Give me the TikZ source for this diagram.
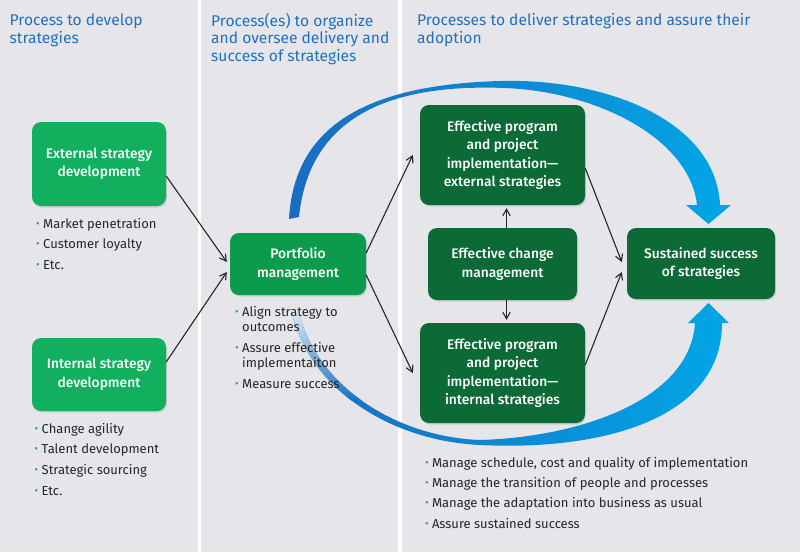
\documentclass[tikz,border=0pt]{standalone}
\usepackage{fontspec}
\setmainfont{Fira Sans}[BoldFont={Fira Sans Medium}]
\usetikzlibrary{arrows.meta,shadows}
\definecolor{bgc}{HTML}{E6E6EA}
\definecolor{lgreen}{HTML}{12AF5F}
\definecolor{mgreen}{HTML}{0C9B4C}
\definecolor{dgreen}{HTML}{0B6A35}
\definecolor{hblue}{HTML}{1F70BE}
\definecolor{dotc}{HTML}{1E9BE0}
\definecolor{txt}{HTML}{262626}
\definecolor{arcA}{HTML}{1B6CC0}
\definecolor{arcM}{HTML}{0A90D8}
\definecolor{arcB}{HTML}{00A6E6}
\definecolor{fadec}{HTML}{EEF1F6}
\newcommand{\bul}{\makebox[7pt][l]{\textcolor{dotc}{\fontsize{11}{11}\selectfont\raisebox{0.3pt}{•}}}}
\def\upperarc{(289,219) .. controls (294,130) and (360,85) .. (500,81)
  .. controls (605,78) and (716,120) .. (720,205) -- (731,205) -- (708.5,224) -- (686,205) -- (697,205)
  .. controls (690,140) and (600,92) .. (505,88)
  .. controls (400,84) and (310,110) .. (299,217) -- cycle}
\def\lowerarc{(292,313) .. controls (310,390) and (392,441) .. (480,445)
  .. controls (600,451) and (722,420) .. (722,323) -- (729,323) -- (708.5,303) -- (688,323) -- (695,323)
  .. controls (690,400) and (580,437) .. (480,440)
  .. controls (398,437) and (318,388) .. (299,313) -- cycle}
\begin{document}
\begin{tikzpicture}[x=1pt,y=-1pt,
  box/.style={rounded corners=9pt, text=white, align=center, inner sep=0pt,
    font=\fontsize{13.8}{18.5}\selectfont\bfseries,
    drop shadow={shadow xshift=1pt, shadow yshift=-1.5pt, opacity=0.25}},
  hdr/.style={anchor=base west, text=hblue, align=left, inner sep=0pt,
    font=\fontsize{15.6}{17.7}\selectfont},
  item/.style={anchor=base west, text=txt, inner sep=0pt,
    font=\fontsize{13}{15}\selectfont},
  conn/.style={draw=txt, line width=1.1pt, -{Straight Barb[length=6.5pt,width=7.5pt]}}]
\useasboundingbox (0,0) rectangle (800,552);
\fill[bgc] (0,0) rectangle (800,552);
\fill[white] (198,0) rectangle (201,552);
\fill[white] (398,0) rectangle (402,552);
% headers (anchor on last line)
\node[hdr] (h1) at (9.5,43.5) {Process to develop\\strategies};
\node[hdr] (h2) at (211,61.5) {Process(es) to organize\\and oversee delivery and\\success of strategies};
\node[hdr] (h3) at (417,43.5) {Processes to deliver strategies and assure their\\adoption};
% blue arcs
\shade[left color=arcA, middle color=arcM, right color=arcB] \upperarc;
\shade[left color=arcA, right color=arcB] \lowerarc;
\begin{scope}
\clip \lowerarc;
\shade[top color=fadec, middle color=fadec!72!arcA, bottom color=arcA!88!arcB] (280,305) rectangle (365,400);
\end{scope}
% boxes
\node[box, fill=lgreen, minimum width=134pt, minimum height=84pt] (ext) at (99,164) {External strategy\\development};
\node[box, fill=lgreen, minimum width=134pt, minimum height=73pt] (int) at (99,374.5) {Internal strategy\\development};
\node[box, fill=mgreen, minimum width=136pt, minimum height=62pt] (port) at (298,264) {Portfolio\\management};
\node[box, fill=dgreen, minimum width=165pt, minimum height=100pt] (ep) at (502.5,155) {Effective program\\and project\\implementation—\\external strategies};
\node[box, fill=dgreen, minimum width=149pt, minimum height=72pt] (cm) at (502.5,264) {Effective change\\management};
\node[box, fill=dgreen, minimum width=165pt, minimum height=100pt] (ip) at (502.5,373) {Effective program\\and project\\implementation—\\internal strategies};
\node[box, fill=dgreen, minimum width=148pt, minimum height=71pt] (ss) at (701,263.5) {Sustained success\\of strategies};
% connectors
\draw[conn] ([yshift=-12pt]ext.east) -- ([xshift=-3pt,yshift=2pt]port.west);
\draw[conn] ([yshift=12.5pt]int.east) -- ([xshift=-3pt,yshift=-8pt]port.west);
\draw[conn] ([yshift=11pt]port.east) -- ([xshift=-7pt]ep.west);
\draw[conn] ([yshift=-11pt]port.east) -- ([xshift=-7pt]ip.west);
\draw[conn] ([yshift=-13pt]ep.east) -- ([xshift=-5pt,yshift=1.5pt]ss.west);
\draw[conn] ([yshift=8pt]ip.east) -- ([xshift=-5pt,yshift=-8.5pt]ss.west);
\draw[conn] ([xshift=4pt]cm.north) -- ([xshift=4pt,yshift=-3pt]ep.south);
\draw[conn] ([xshift=4pt]cm.south) -- ([xshift=4pt,yshift=3pt]ip.north);
% bullet lists
\node[item] (e1) at (36,228) {\bul Market penetration};
\node[item] (e2) at (36,248) {\bul Customer loyalty};
\node[item] (e3) at (36,269) {\bul Etc.};
\node[item] (i1) at (34.5,433) {\bul Change agility};
\node[item] (i2) at (34.5,453) {\bul Talent development};
\node[item] (i3) at (34.5,474) {\bul Strategic sourcing};
\node[item] (i4) at (34.5,495) {\bul Etc.};
\node[item] (p1) at (235,316) {\bul Align strategy to};
\node[item] (p1b) at (242,331) {outcomes};
\node[item] (p2) at (235,352) {\bul Assure effective};
\node[item] (p2b) at (242,367) {implementaiton};
\node[item] (p3) at (235,388) {\bul Measure success};
\node[item] (b1) at (424.8,467) {\bul Manage schedule, cost and quality of implementation};
\node[item] (b2) at (424.8,487) {\bul Manage the transition of people and processes};
\node[item] (b3) at (424.8,507) {\bul Manage the adaptation into business as usual};
\node[item] (b4) at (424.8,528) {\bul Assure sustained success};
\end{tikzpicture}
\end{document}
